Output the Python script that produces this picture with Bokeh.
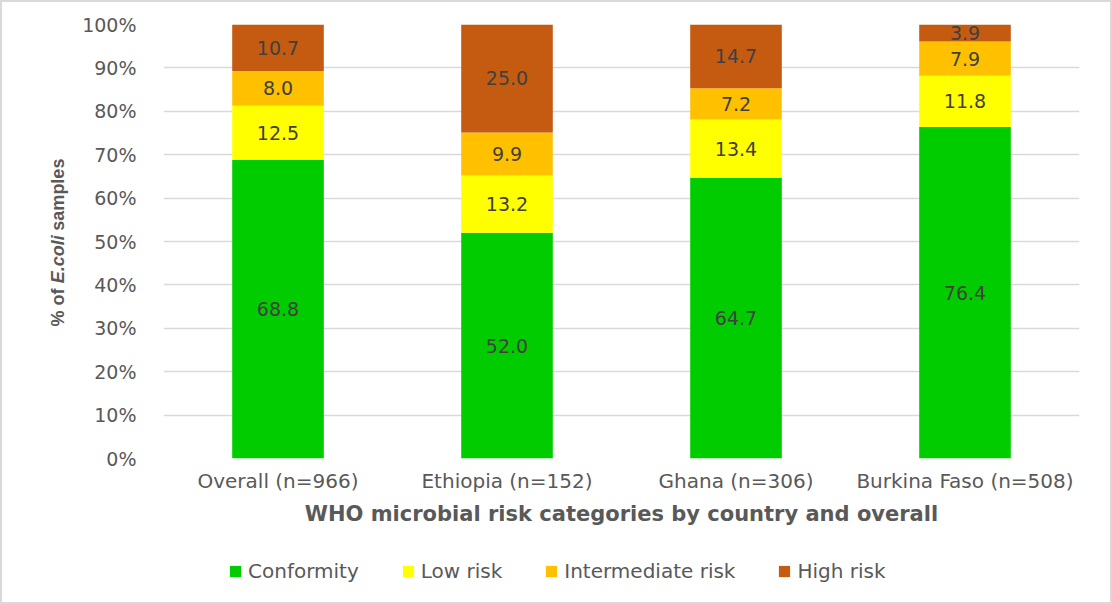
import numpy as np
from bokeh.plotting import figure
from bokeh.layouts import row, column
from bokeh.models import (ColumnDataSource, FactorRange, Range1d, Legend, LegendItem, Label,
                          CustomJSTickFormatter)
from bokeh.core.properties import value
from bokeh.embed import file_html
from bokeh.resources import INLINE

categories = ["Overall (n=966)", "Ethiopia (n=152)", "Ghana (n=306)", "Burkina Faso (n=508)"]
series = ["Conformity", "Low risk", "Intermediate risk", "High risk"]
conformity = [68.8, 52.0, 64.7, 76.4]
low_risk = [12.5, 13.2, 13.4, 11.8]
intermediate_risk = [8.0, 9.9, 7.2, 7.9]
high_risk = [10.7, 25.0, 14.7, 3.9]
colors = ["#00cc00", "#ffff00", "#ffc000", "#c55a11"]
y_ticks = [0, 10, 20, 30, 40, 50, 60, 70, 80, 90, 100]
y_title_parts = ["% of", "E.coli", "samples"]

FONT = "DejaVu Sans"
TXT = "#595959"
BORDER = 2
W, H = 1112 - 2 * BORDER, 604 - 2 * BORDER
LEFT_W = 70
MAIN_H = 543

src = ColumnDataSource({"cat": categories, "Conformity": conformity, "Low risk": low_risk,
                        "Intermediate risk": intermediate_risk, "High risk": high_risk})

# ---------- main chart ----------
p = figure(x_range=FactorRange(*categories), y_range=Range1d(0, 100),
           width=W - LEFT_W, height=MAIN_H, output_backend="svg", toolbar_location=None,
           min_border_left=161 - LEFT_W, min_border_right=31, min_border_top=22,
           min_border_bottom=MAIN_H - 456)
p.outline_line_color = None

renderers = p.vbar_stack(series, x="cat", width=0.4, source=src, color=colors, line_color=None)

vals = [conformity, low_risk, intermediate_risk, high_risk]
lx, ly, lt = [], [], []
for i, c in enumerate(categories):
    base = 0.0
    for s in vals:
        v = s[i]
        lx.append(c); ly.append(base + v / 2); lt.append(f"{v:.1f}")
        base += v
p.text(x=lx, y=ly, text=lt, text_align="center", text_baseline="middle",
       text_font=value(FONT), text_font_size="19px", text_color="#404040")

p.yaxis.ticker = y_ticks
p.yaxis.formatter = CustomJSTickFormatter(code="return tick + '%'")
for ax in (p.xaxis, p.yaxis):
    ax.axis_line_color = None
    ax.major_tick_line_color = None
    ax.minor_tick_line_color = None
    ax.major_label_text_font = FONT
    ax.major_label_text_color = TXT
p.yaxis.major_label_text_font_size = "19px"
p.xaxis.major_label_text_font_size = "20px"
p.yaxis.major_label_standoff = 21
p.xaxis.major_label_standoff = 4
p.xaxis.axis_label = "WHO microbial risk categories by country and overall"
p.xaxis.axis_label_text_font = FONT
p.xaxis.axis_label_text_font_style = "bold"
p.xaxis.axis_label_text_font_size = "21px"
p.xaxis.axis_label_text_color = TXT
p.xaxis.axis_label_standoff = 6

p.xgrid.grid_line_color = None
p.ygrid.grid_line_color = "#d9d9d9"
p.ygrid.grid_line_width = 1.5

# ---------- y-axis title (E.coli in italics) ----------
# the strip's frame is aligned with the main frame, so it shares the 0-100 scale
t = figure(width=LEFT_W, height=MAIN_H, x_range=Range1d(0, LEFT_W), y_range=Range1d(0, 100),
           output_backend="svg", toolbar_location=None, min_border=0)
t.axis.visible = False
t.grid.visible = False
t.outline_line_color = None
part_y = [34.8, 45.9, 60.8]   # centres of the three pieces
part_style = ["bold", "bold italic", "bold"]
for txt, yy, st in zip(y_title_parts, part_y, part_style):
    t.add_layout(Label(x=55, y=yy, text=txt, angle=np.pi / 2, text_align="center",
                       text_baseline="middle", text_font="Liberation Sans",
                       text_font_style=st, text_font_size="18px", text_color=TXT))

# ---------- legend strip ----------
lg = figure(width=W, height=H - MAIN_H, x_range=Range1d(0, W), y_range=Range1d(0, H - MAIN_H),
            output_backend="svg", toolbar_location=None, min_border=0)
lg.axis.visible = False
lg.grid.visible = False
lg.outline_line_color = None
nan = float("nan")
swatches = [lg.vbar(x=[nan], top=[nan], width=1, color=c, line_color=None) for c in colors]
legend = Legend(items=[LegendItem(label=s, renderers=[r]) for s, r in zip(series, swatches)],
                orientation="horizontal", location=(226, 19), padding=0, margin=0,
                spacing=42, glyph_width=14, glyph_height=14, label_standoff=6, label_height=22,
                label_text_font=FONT, label_text_font_size="20px", label_text_color=TXT,
                border_line_color=None, background_fill_alpha=0)
lg.add_layout(legend, "center")

layout = column(row(t, p), lg)
layout.styles = {"border": f"{BORDER}px solid #d9d9d9", "box-sizing": "content-box"}

open("out.html", "w").write(file_html(layout, INLINE))
